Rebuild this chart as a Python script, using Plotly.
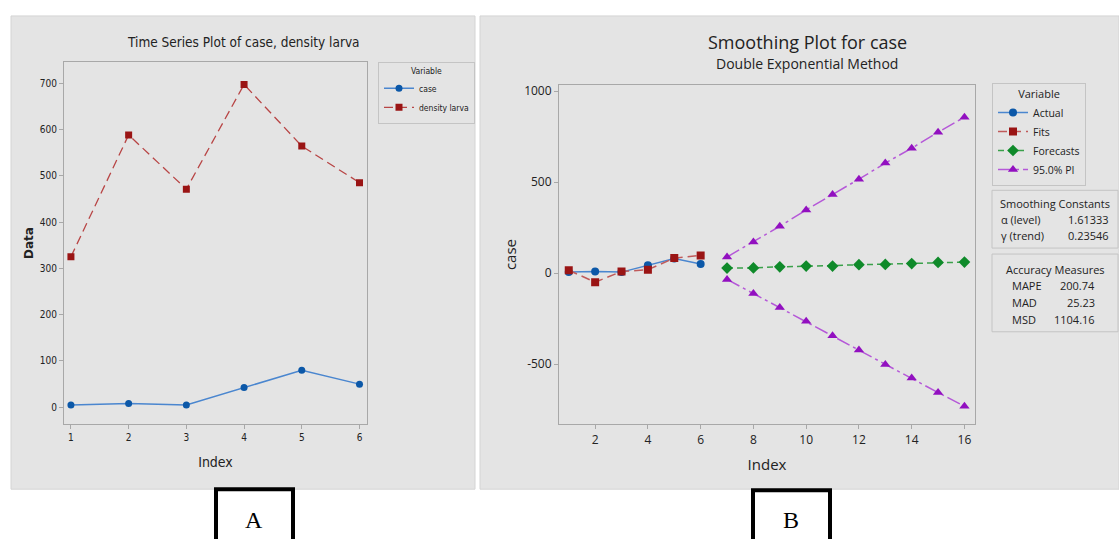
import plotly.graph_objects as go

W, H = 1119, 539

# ---------------- data ----------------
idx_a = [1, 2, 3, 4, 5, 6]
case_vals = [5, 8, 5, 43, 80, 50]
density_larva = [325, 588, 471, 697, 564, 485]

idx_fit = [1, 2, 3, 4, 5, 6]
actual_vals = [5, 8, 5, 43, 80, 50]
fits_vals = [15, -50, 8, 18, 82, 97]
idx_fc = [7, 8, 9, 10, 11, 12, 13, 14, 15, 16]
forecast_vals = [27, 28, 34, 38, 38, 46, 47, 52, 58, 60]
pi_upper = [88, 171, 257, 347, 431, 516, 604, 686, 774, 856]
pi_lower = [-35, -113, -190, -265, -345, -423, -502, -577, -657, -732]

ytick_a = [0, 100, 200, 300, 400, 500, 600, 700]
ytick_b = [-500, 0, 500, 1000]
ytick_b_text = ["-500", "0", "500", "1000"]
xtick_b = [2, 4, 6, 8, 10, 12, 14, 16]

smooth_labels = ["α (level)", "γ (trend)"]
smooth_values = ["1.61333", "0.23546"]
acc_labels = ["MAPE", "MAD", "MSD"]
acc_values = ["200.74", "25.23", "1104.16"]

GRAY = "#e4e4e4"
AXC = "#a8a8a8"
NARROW = "DejaVu Sans Condensed, Liberation Sans Narrow, Roboto"


def px(x):
    return x / W


def py(y):
    return 1 - y / H


fig = go.Figure()

# ---------------- panel A ----------------
fig.add_trace(go.Scatter(
    x=idx_a, y=case_vals, name="case", mode="lines+markers",
    line=dict(color="#4a86cf", width=1.5),
    marker=dict(color="#0c58a8", size=7, symbol="circle"),
    xaxis="x", yaxis="y", legend="legend"))
fig.add_trace(go.Scatter(
    x=idx_a, y=density_larva, name="density larva", mode="lines+markers",
    line=dict(color="#b84545", width=1.3, dash="9px,5px"),
    marker=dict(color="#9a1414", size=7, symbol="square"),
    xaxis="x", yaxis="y", legend="legend"))

# ---------------- panel B ----------------
fig.add_trace(go.Scatter(
    x=idx_fit, y=actual_vals, name="Actual", mode="lines+markers",
    line=dict(color="#4a86cf", width=1.5),
    marker=dict(color="#0c58a8", size=8, symbol="circle"),
    xaxis="x2", yaxis="y2", legend="legend2"))
fig.add_trace(go.Scatter(
    x=idx_fit, y=fits_vals, name="Fits", mode="lines+markers",
    line=dict(color="#c05a5a", width=1.5, dash="9px,5px"),
    marker=dict(color="#9a1414", size=8, symbol="square"),
    xaxis="x2", yaxis="y2", legend="legend2"))
fig.add_trace(go.Scatter(
    x=idx_fc, y=forecast_vals, name="Forecasts", mode="lines+markers",
    line=dict(color="#3aa04a", width=1.5, dash="6px,4px"),
    marker=dict(color="#0f8a2a", size=9, symbol="diamond"),
    xaxis="x2", yaxis="y2", legend="legend2"))
fig.add_trace(go.Scatter(
    x=idx_fc, y=pi_upper, name="95.0% PI", mode="lines+markers",
    line=dict(color="#b558d8", width=1.5, dash="14px,4px,3px,4px"),
    marker=dict(color="#9210c0", size=9, symbol="triangle-up"),
    xaxis="x2", yaxis="y2", legend="legend2"))
fig.add_trace(go.Scatter(
    x=idx_fc, y=pi_lower, name="95.0% PI", mode="lines+markers",
    line=dict(color="#b558d8", width=1.5, dash="14px,4px,3px,4px"),
    marker=dict(color="#9210c0", size=9, symbol="triangle-up"),
    xaxis="x2", yaxis="y2", legend="legend2", showlegend=False))

axis_common = dict(showgrid=False, zeroline=False, showline=True, linecolor=AXC,
                   linewidth=1, mirror=True, ticks="outside", ticklen=4,
                   tickcolor=AXC)

fig.update_layout(
    width=W, height=H,
    margin=dict(l=0, r=0, t=0, b=0),
    paper_bgcolor="white", plot_bgcolor="white",
    font=dict(family="Open Sans", color="#222"),
    xaxis=dict(domain=[px(64), px(367)], range=[0.88, 6.13], anchor="y",
               tickvals=idx_a, tickfont=dict(size=10, family=NARROW),
               title=dict(text="Index", font=dict(size=14, family=NARROW),
                          standoff=14),
               **axis_common),
    yaxis=dict(domain=[py(424), py(60)], range=[-37, 746], anchor="x",
               tickvals=ytick_a,
               tickfont=dict(size=10, family=NARROW),
               title=dict(text="<b>Data</b>", font=dict(size=12, family="DejaVu Sans"),
                          standoff=3),
               **axis_common),
    xaxis2=dict(domain=[px(559), px(975)], range=[0.63, 16.4], anchor="y2",
                tickvals=xtick_b, tickfont=dict(size=12),
                title=dict(text="Index", font=dict(size=15), standoff=12),
                **axis_common),
    yaxis2=dict(domain=[py(424), py(83)], range=[-832, 1035], anchor="x2",
                tickvals=ytick_b, ticktext=ytick_b_text, tickfont=dict(size=12),
                title=dict(text="case", font=dict(size=15), standoff=3),
                **axis_common),
    legend=dict(x=px(378), y=py(60), xanchor="left", yanchor="top",
                bgcolor=GRAY, bordercolor="#c4c4c4", borderwidth=1,
                font=dict(size=8.5, family=NARROW),
                title=dict(text="Variable", side="top center",
                           font=dict(size=8.5, family=NARROW)),
                itemwidth=30, tracegroupgap=0),
    legend2=dict(x=px(992), y=py(81), xanchor="left", yanchor="top",
                 bgcolor=GRAY, bordercolor="#c4c4c4", borderwidth=1,
                 font=dict(size=10.5),
                 title=dict(text="Variable", side="top center", font=dict(size=11)),
                 itemwidth=30, tracegroupgap=0),
)

shapes = [
    dict(type="rect", xref="paper", yref="paper", x0=px(11), x1=px(475),
         y0=py(489), y1=py(14), fillcolor=GRAY, line=dict(color="#d4d4d4", width=1),
         layer="below"),
    dict(type="rect", xref="paper", yref="paper", x0=px(480), x1=px(1119),
         y0=py(489), y1=py(14), fillcolor=GRAY, line=dict(color="#d4d4d4", width=1),
         layer="below"),
    dict(type="rect", xref="paper", yref="paper", x0=px(992), x1=px(1118),
         y0=py(247), y1=py(189), fillcolor=GRAY, line=dict(color="#c4c4c4", width=1)),
    dict(type="rect", xref="paper", yref="paper", x0=px(992), x1=px(1118),
         y0=py(331), y1=py(253), fillcolor=GRAY, line=dict(color="#c4c4c4", width=1)),
    dict(type="rect", xref="paper", yref="paper", x0=px(216), x1=px(293),
         y0=py(545), y1=py(489), fillcolor="white", line=dict(color="black", width=4)),
    dict(type="rect", xref="paper", yref="paper", x0=px(753), x1=px(830),
         y0=py(545), y1=py(490), fillcolor="white", line=dict(color="black", width=4)),
]

ann = []


def A(x, y, text, size, xanchor="center", family="Open Sans", color="#222"):
    ann.append(dict(x=px(x), y=py(y), xref="paper", yref="paper", text=text,
                    showarrow=False, xanchor=xanchor, yanchor="middle",
                    font=dict(size=size, family=family, color=color)))


A(243, 40, "Time Series Plot of case, density larva", 13.5, family=NARROW)
A(807, 40, "Smoothing Plot for case", 18)
A(807, 62, "Double Exponential Method", 14)

A(1055, 202, "Smoothing Constants", 11)
for i, (lab, val) in enumerate(zip(smooth_labels, smooth_values)):
    A(999, 218 + 16 * i, lab, 11, xanchor="left")
    A(1111, 218 + 16 * i, val, 11, xanchor="right")

A(1055, 268, "Accuracy Measures", 11)
for i, (lab, val) in enumerate(zip(acc_labels, acc_values)):
    A(1010, 285 + 17 * i, lab, 11, xanchor="left")
    A(1097, 285 + 17 * i, val, 11, xanchor="right")

A(254, 520, "A", 24, family="Liberation Serif", color="black")
A(791, 520, "B", 24, family="Liberation Serif", color="black")

fig.update_layout(shapes=shapes, annotations=ann)

fig.write_html("out.html", config={"displayModeBar": False},
               post_script="document.body.style.margin='0';"
                           "document.body.style.overflow='hidden';")
